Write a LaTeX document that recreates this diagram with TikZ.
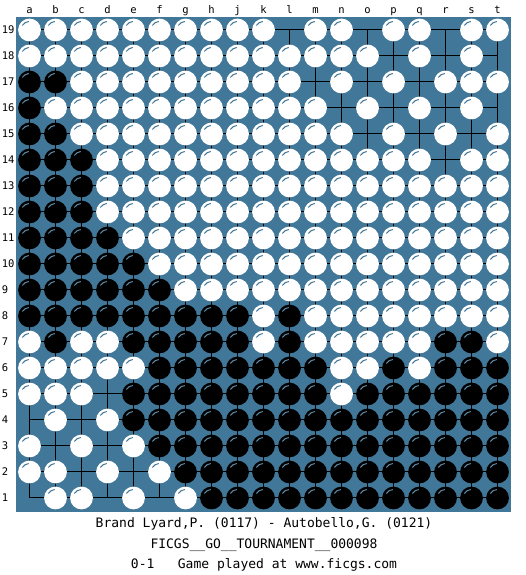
\documentclass[tikz,border=0pt]{standalone}
\usepackage{fontspec}
\setmonofont{DejaVu Sans Mono}
\usetikzlibrary{calc}
\definecolor{BoardBlue}{RGB}{65,119,152}
\tikzset{
  board/.style={fill=BoardBlue},
  gridline/.style={black,line width=1pt},
  stone base/.style={
    circle,
    minimum size=22.8pt,
    inner sep=0pt,
    draw=none
  },
  wstone/.style={stone base,fill=white},
  bstone/.style={stone base,fill=black},
  wgloss/.style={draw=BoardBlue,line width=1pt},
  bgloss/.style={draw=BoardBlue!85!white,line width=1pt},
  coordlabel/.style={font=\ttfamily\fontsize{10.5}{12}\selectfont,inner sep=0pt},
  caption/.style={font=\ttfamily\fontsize{13}{15}\selectfont,inner sep=0pt,anchor=base}
}

\begin{document}
\begin{tikzpicture}[x=1pt,y=1pt]
\useasboundingbox (0,0) rectangle (525,575);
\fill[white] (0,0) rectangle (525,575);

% Board and its intersections (a1 ... t19)
\fill[board] (16,63) rectangle (511,558);
\foreach \col [count=\i] in {a,b,c,d,e,f,g,h,j,k,l,m,n,o,p,q,r,s,t}
  \foreach \row in {1,...,19}
    \coordinate (\col\row) at ({29.5+26*(\i-1)},{77+26*(\row-1)});

% Grid lines
\foreach \row in {1,...,19}
  \draw[gridline] (a\row) -- (t\row);
\foreach \col in {a,b,c,d,e,f,g,h,j,k,l,m,n,o,p,q,r,s,t}
  \draw[gridline] (\col1) -- (\col19);

% Coordinates
\foreach \col in {a,b,c,d,e,f,g,h,j,k,l,m,n,o,p,q,r,s,t}
  \node[coordlabel,anchor=base] (lab-\col) at ([yshift=16pt]\col19) {\col};
\foreach \row in {1,...,19}
  \node[coordlabel,anchor=west] (lab-\row) at ([xshift=-27.8pt]a\row) {\row};

% White stones
\foreach \row/\cols in {
  19/{a,b,c,d,e,f,g,h,j,k,m,n,p,q,s,t},
  18/{a,b,c,d,e,f,g,h,j,k,l,m,n,o,q,s},
  17/{c,d,e,f,g,h,j,k,l,n,p,r,s,t},
  16/{b,c,d,e,f,g,h,j,k,l,m,o,q,s},
  15/{c,d,e,f,g,h,j,k,l,m,n,p,r,t},
  14/{d,e,f,g,h,j,k,l,m,n,o,p,q,s,t},
  13/{d,e,f,g,h,j,k,l,m,n,o,p,q,r,s,t},
  12/{d,e,f,g,h,j,k,l,m,n,o,p,q,r,s,t},
  11/{e,f,g,h,j,k,l,m,n,o,p,q,r,s,t},
  10/{f,g,h,j,k,l,m,n,o,p,q,r,s,t},
  9/{g,h,j,k,l,m,n,o,p,q,r,s,t},
  8/{k,m,n,o,p,q,r,s,t},
  7/{a,c,d,k,m,n,o,p,q,t},
  6/{a,b,c,d,e,n,o,q},
  5/{a,b,c,n},
  4/{b,d},
  3/{a,c,e},
  2/{a,b,d,f},
  1/{b,c,e,g}}
  \foreach \col in \cols {
    \node[wstone] (w-\col\row) at (\col\row) {};
    \draw[wgloss] ([shift={(95:8.5)}]\col\row) arc (95:148:8.5);
  }

% Black stones
\foreach \row/\cols in {
  17/{a,b},
  16/{a},
  15/{a,b},
  14/{a,b,c},
  13/{a,b,c},
  12/{a,b,c},
  11/{a,b,c,d},
  10/{a,b,c,d,e},
  9/{a,b,c,d,e,f},
  8/{a,b,c,d,e,f,g,h,j,l},
  7/{b,e,f,g,h,j,l,r,s},
  6/{f,g,h,j,k,l,m,p,r,s,t},
  5/{e,f,g,h,j,k,l,m,o,p,q,r,s,t},
  4/{e,f,g,h,j,k,l,m,n,o,p,q,r,s,t},
  3/{f,g,h,j,k,l,m,n,o,p,q,r,s,t},
  2/{g,h,j,k,l,m,n,o,p,q,r,s,t},
  1/{h,j,k,l,m,n,o,p,q,r,s,t}}
  \foreach \col in \cols {
    \node[bstone] (b-\col\row) at (\col\row) {};
    \draw[bgloss] ([shift={(95:8.5)}]\col\row) arc (95:148:8.5);
  }

% Game record
\node[caption] (players) at (264,47.3) {Brand Lyard,P. (0117) - Autobello,G. (0121)};
\node[caption] (event) at (264,27) {FICGS\_\_GO\_\_TOURNAMENT\_\_000098};
\node[caption] (result) at (264,6) {0-1\ \ \ Game played at www.ficgs.com};

\end{tikzpicture}
\end{document}
